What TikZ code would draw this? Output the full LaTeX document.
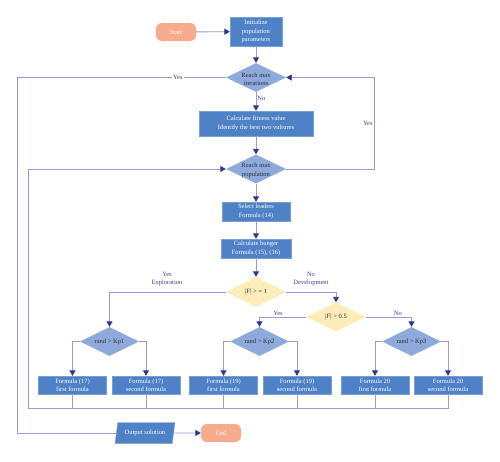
\documentclass[tikz,border=0pt]{standalone}
\usepackage{fontspec}
\setmainfont{Liberation Serif}
\usetikzlibrary{shapes.geometric,arrows.meta}
\definecolor{boxc}{RGB}{79,129,199}
\definecolor{boxb}{RGB}{120,160,215}
\definecolor{diab}{RGB}{142,169,219}
\definecolor{yel}{RGB}{252,236,186}
\definecolor{salm}{RGB}{247,170,140}
\definecolor{linec}{RGB}{155,155,212}
\definecolor{arrc}{RGB}{48,52,150}
\definecolor{labc}{RGB}{62,62,150}
\definecolor{darkt}{RGB}{45,45,55}
\begin{document}
\begin{tikzpicture}[x=1pt,y=-1pt,
  font=\fontsize{6.5}{8.4}\selectfont,
  box/.style={rectangle, fill=boxc, draw=boxb, line width=0.4pt, text=white, align=center, inner sep=1pt},
  term/.style={rectangle, rounded corners=6pt, fill=salm, text=white, minimum width=40pt, minimum height=18pt, inner sep=1pt},
  dia/.style={diamond, fill=diab, minimum width=60pt, minimum height=29pt, inner sep=0pt},
  ydia/.style={dia, fill=yel},
  dtext/.style={text=darkt, align=center, inner sep=0pt},
  dtext2/.style={dtext, yshift=-1.5pt},
  ln/.style={draw=linec, line width=0.9pt},
  arr/.style={ln, -{Triangle[width=6pt,length=5.5pt,color=arrc]}},
  lab/.style={text=labc, align=center, inner sep=1pt}
]
\useasboundingbox (0,0) rectangle (500,461);

% nodes
\node[term] (start) at (176,32) {Start};
\node[box, minimum width=52pt, minimum height=29pt] (init) at (256,31.5) {Initialize\\population\\parameters};
\node[dia, label={[dtext2]center:Reach max\\iterations}] (d1) at (256,77.5) {};
\node[box, minimum width=114pt, minimum height=25pt] (calc) at (256,123.5) {Calculate fitness value\\Identify the best two vultures};
\node[dia, label={[dtext2]center:Reach max\\population}] (d2) at (256,169) {};
\node[box, minimum width=68pt, minimum height=19pt] (sel) at (256,211.5) {Select leaders\\Formula (14)};
\node[box, minimum width=70pt, minimum height=19pt] (hung) at (256,248.5) {Calculate hunger\\Formula (15), (16)};
\node[ydia, minimum height=30pt, label={[dtext]center:|\textit{F}| > = 1}] (d3) at (256,292) {};
\node[ydia, label={[dtext]center:|\textit{F}| > 0.5}] (d4) at (336,317) {};
\node[dia, minimum width=59pt, label={[dtext]center:rand > Kp1}] (k1) at (109.5,341.5) {};
\node[dia, minimum width=59pt, label={[dtext]center:rand > Kp2}] (k2) at (259.5,341.5) {};
\node[dia, minimum width=59pt, label={[dtext]center:rand > Kp3}] (k3) at (411.5,341.5) {};
\tikzset{fbox/.style={box, minimum width=68pt, minimum height=18pt}}
\node[fbox] (f1) at (72.5,385) {Formula (17)\\first formula};
\node[fbox] (f2) at (146,385) {Formula (17)\\second formula};
\node[fbox] (f3) at (223.5,385) {Formula (19)\\first formula};
\node[fbox] (f4) at (297,385) {Formula (19)\\second formula};
\node[fbox] (f5) at (375,385) {Formula 20\\first formula};
\node[fbox] (f6) at (448,385) {Formula 20\\second formula};
\node[trapezium, trapezium left angle=75, trapezium right angle=105, trapezium stretches=true,
      fill=boxc, draw=boxb, line width=0.4pt, text=white, minimum width=60pt, minimum height=21pt, inner sep=1pt] (out) at (145,433) {Output solution};
\node[term] (end) at (221,433) {End};

\coordinate (leftX) at (17.3,0);
\coordinate (rightX) at (374,0);
\coordinate (busL) at (28.7,408);

% connectors
\draw[arr] (start) -- (init);
\draw[arr] (init) -- (d1);
\draw[arr] (d1) -- node[lab, right, pos=0.35] {No} (calc);
\draw[arr] (calc) -- (d2);
\draw[arr] (d2) -- (sel);
\draw[arr] (sel) -- (hung);
\draw[arr] (hung) -- (d3);

\draw[ln] (d1.west) -- node[lab, fill=white, pos=0.23] {Yes} (d1.west -| leftX) |- (out.west);
\draw[arr] (d2.east) -- (d2.east -| rightX) -- node[lab, left, pos=0.5] {Yes} (d1.east -| rightX) -- (d1.east);

\draw[arr] (d3.west) -| (k1.north);
\node[lab] at (167,279) {Yes\\Exploration};
\draw[arr] (d3.east) -| (d4.north);
\node[lab] at (311,279) {No\\Development};
\draw[arr] (d4.west) -| node[lab, above, pos=0.3] {Yes} (k2.north);
\draw[arr] (d4.east) -| node[lab, above, pos=0.35] {No} (k3.north);

\draw[arr] (k1.west) -| (f1.north);
\draw[arr] (k1.east) -| (f2.north);
\draw[arr] (k2.west) -| (f3.north);
\draw[arr] (k2.east) -| (f4.north);
\draw[arr] (k3.west) -| (f5.north);
\draw[arr] (k3.east) -| (f6.north);

\draw[arr] (f6.south) |- (busL) |- (d2.west);
\foreach \f in {f1,f2,f3,f4,f5} \draw[ln] (\f.south) -- (\f.south |- busL);

\draw[arr] (out.east) -- (end.west);
\end{tikzpicture}
\end{document}
